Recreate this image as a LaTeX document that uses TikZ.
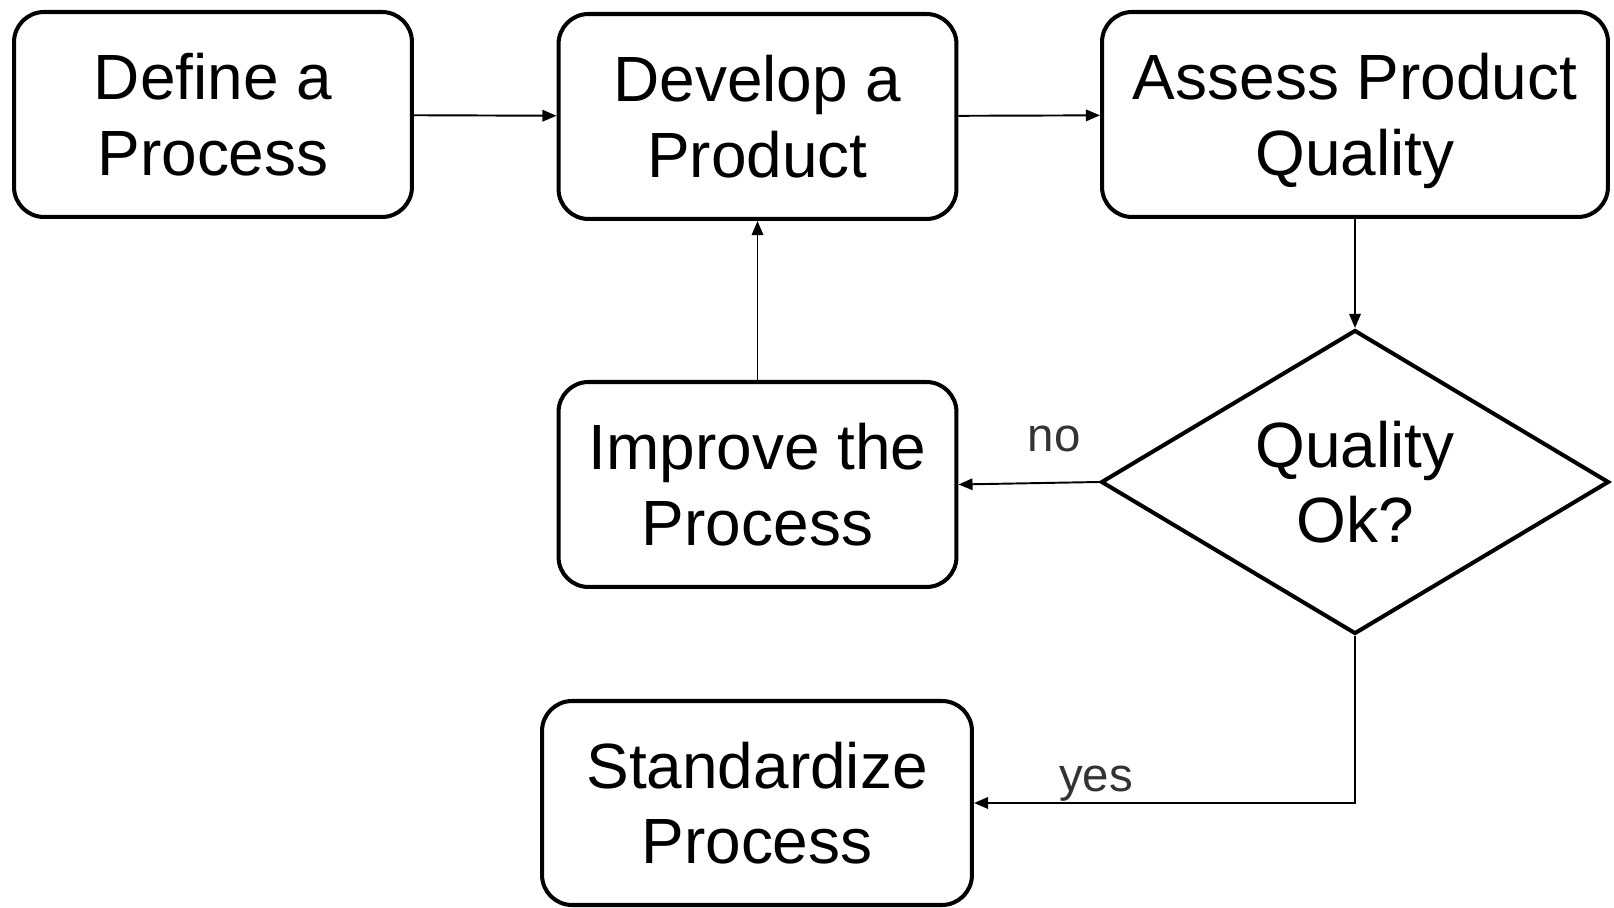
\documentclass[tikz,border=0pt]{standalone}
\usepackage{fontspec}
\setmainfont{Liberation Sans}
\usetikzlibrary{shapes.geometric,arrows.meta}

\tikzset{
  stage/.style={draw,line width=2.3pt,rounded corners=0.6cm,align=center,
    inner sep=0pt,text depth=0pt,font=\fontsize{36.4}{43}\selectfont},
  decision/.style={stage,diamond,rounded corners=0pt,aspect=1.67},
  flow/.style={line width=1.1pt,-{Triangle[length=8pt,width=6.5pt]}},
  answer/.style={font=\fontsize{27}{31}\selectfont,text=black!80},
}

\begin{document}
\begin{tikzpicture}[x=0.02cm,y=-0.02cm]
  \useasboundingbox (0,0) rectangle (1614,908);
  % top row
  \node[stage,minimum width=7.96cm,minimum height=4.1cm] (define) at (213,114.5) {Define a\\Process};
  \node[stage,minimum width=7.96cm,minimum height=4.1cm] (develop) at (757.5,116.5) {Develop a\\Product};
  \node[stage,minimum width=10.12cm,minimum height=4.1cm] (assess) at (1355,114.5) {Assess Product\\Quality};
  % check and the two outcomes
  \node[decision,minimum width=10.16cm,minimum height=6.08cm] (check) at (1355,482) {Quality\\Ok?};
  \node[stage,minimum width=7.96cm,minimum height=4.1cm] (improve) at (757.5,484.5) {Improve the\\Process};
  \node[stage,minimum width=8.6cm,minimum height=4.08cm] (standard) at (757,803) {Standardize\\Process};

  \draw[flow] (define) -- (develop);
  \draw[flow] (develop) -- (assess);
  \draw[flow] (assess) -- (check);
  \draw[flow] (check.west) -- node[answer,pos=0.32,yshift=0.88cm] (no) {no} (improve.east);%<- loop back
  \draw[flow] (improve) -- (develop);
  \draw[flow] (check.south) |- node[answer,pos=0.84,yshift=0.38cm] (yes) {yes} (standard.east);
\end{tikzpicture}
\end{document}
